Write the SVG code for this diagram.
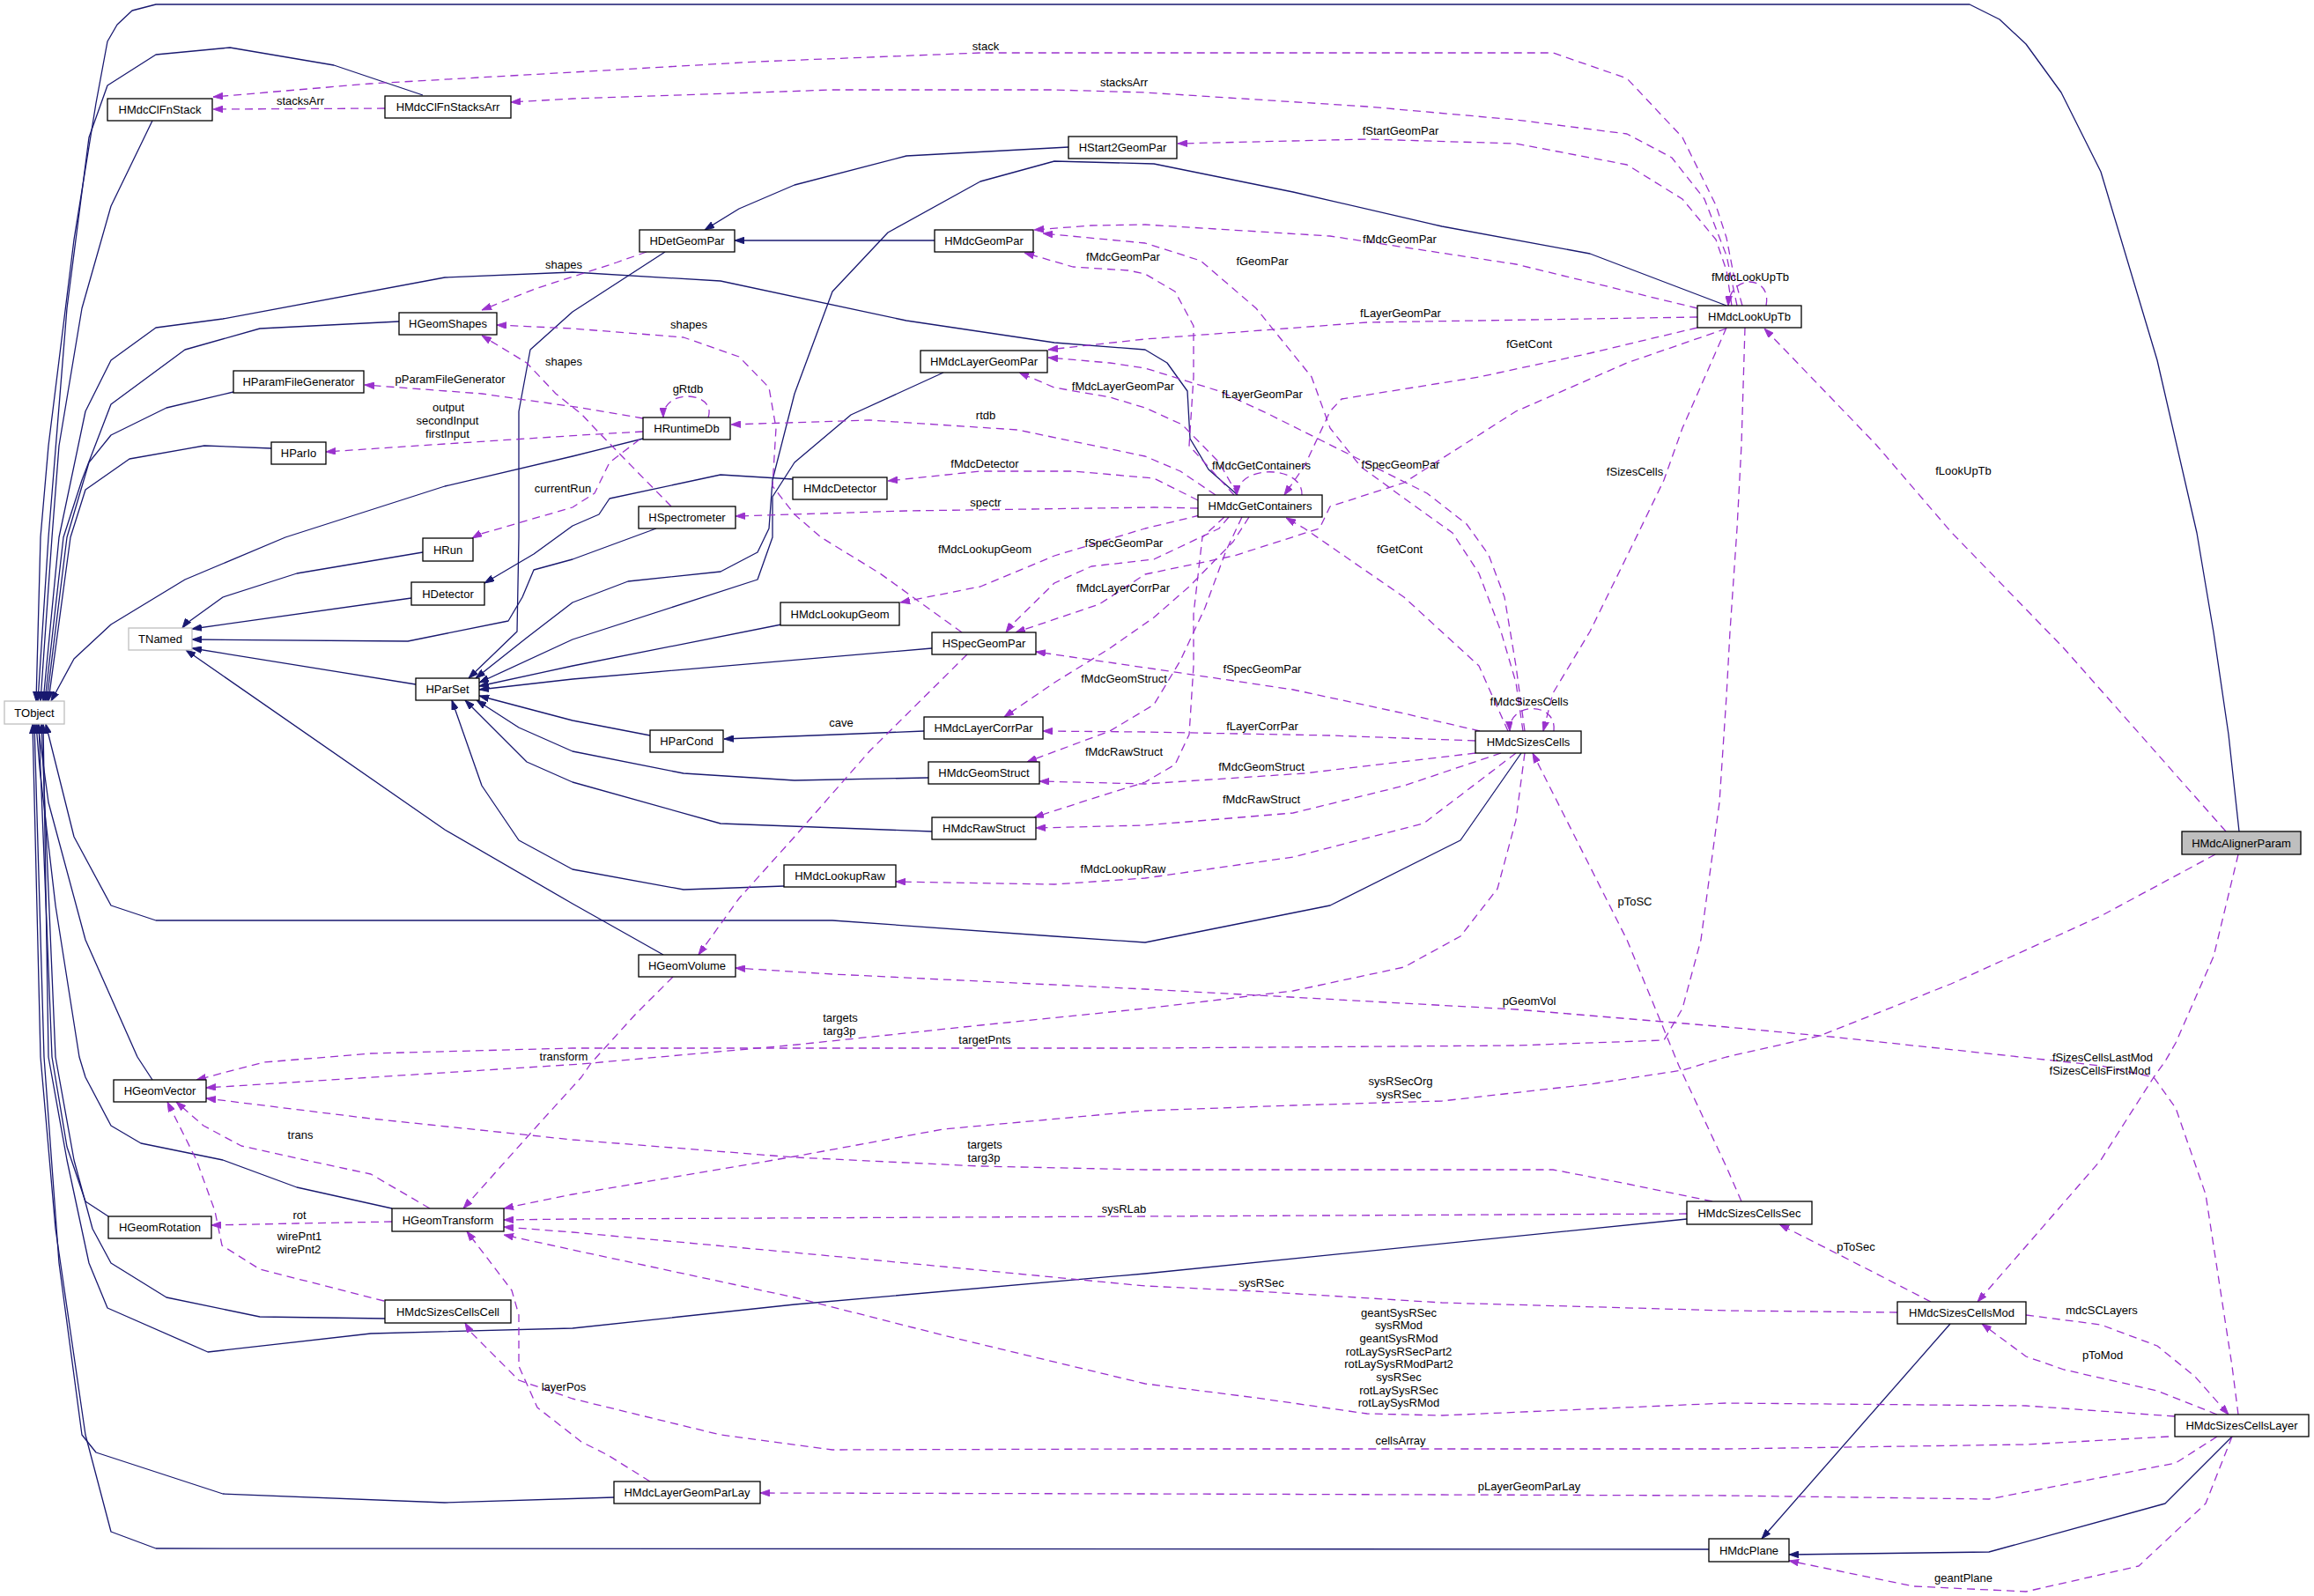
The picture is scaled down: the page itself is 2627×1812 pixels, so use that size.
<svg xmlns="http://www.w3.org/2000/svg" width="2627" height="1812" viewBox="0 0 2627 1812">
<style>
text{font-family:"Liberation Sans",Arial,Helvetica,sans-serif;font-size:13px;fill:#000}
.n text{text-anchor:middle}
.n rect{fill:#fff;stroke:#000;stroke-width:1.3}
.g rect{stroke:#bfbfbf}
.i{fill:none;stroke:#191970;stroke-width:1.3;stroke-linejoin:round;marker-end:url(#mi)}
.u{fill:none;stroke:#9a32cd;stroke-width:1.3;stroke-linejoin:round;stroke-dasharray:9,6;marker-end:url(#mu)}
.l text{text-anchor:middle}
</style>
<defs>
<marker id="mi" viewBox="0 0 10 7" refX="10" refY="3.5" markerWidth="11" markerHeight="8" orient="auto" markerUnits="userSpaceOnUse"><path d="M0,0 L10,3.5 L0,7 z" fill="#191970" stroke="#191970" stroke-width="0.8"/></marker>
<marker id="mu" viewBox="0 0 10 7" refX="10" refY="3.5" markerWidth="11" markerHeight="8" orient="auto" markerUnits="userSpaceOnUse"><path d="M0,0 L10,3.5 L0,7 z" fill="#9a32cd" stroke="#9a32cd" stroke-width="0.8"/></marker>
</defs>
<rect x="0" y="0" width="2627" height="1812" fill="#fff"/>
<g id="edges">
<path class="i" d="M2542,944 L2530,834 L2513,718 L2494,605 L2449,409 L2385,195 L2340,105 L2300,50 L2270,22 L2236,5 L177,5 L150,12 L133,28 L122,47 L109,117 L84,272 L55,506 L46,610 L41,796"/>
<path class="i" d="M480,108 L379,74 L261,54 L177,62 L122,97 L101,156 L76,350 L55,610 L43,796"/>
<path class="i" d="M173,137 L126,234 L93,350 L67,506 L59,610 L46,796"/>
<path class="i" d="M1405,562 L1372,533 L1351,498 L1348,444 L1325,412 L1300,397 L1197,389 L1029,364 L818,319 L650,309 L505,315 L253,362 L177,372 L126,409 L97,467 L67,610 L49,796"/>
<path class="i" d="M453,365 L295,373 L210,397 L126,459 L93,545 L72,610 L51,796"/>
<path class="i" d="M265,445 L189,463 L126,494 L101,525 L76,610 L53,796"/>
<path class="i" d="M308,509 L232,506 L147,521 L97,556 L80,610 L55,796"/>
<path class="i" d="M730,498 L650,518 L505,552 L324,610 L210,658 L126,709 L84,748 L58,796"/>
<path class="i" d="M755,286 L650,354 L602,397 L589,467 L589,610 L587,717 L532,770"/>
<path class="i" d="M1061,273 L834,273"/>
<path class="i" d="M1213,167 L1029,177 L902,210 L839,237 L800,261"/>
<path class="i" d="M1960,347 L1805,288 L1637,257 L1468,218 L1310,186 L1197,183 L1113,206 L1008,264 L945,331 L902,447 L877,545 L873,600 L860,627 L818,649 L713,660 L650,684 L598,724 L540,770"/>
<path class="i" d="M1071,423 L966,471 L902,525 L877,564 L877,610 L860,658 L650,726 L544,775"/>
<path class="i" d="M480,627 L337,651 L253,678 L210,709 L207,713"/>
<path class="i" d="M467,679 L218,714"/>
<path class="i" d="M745,600 L650,635 L606,647 L593,678 L577,705 L463,728 L218,726"/>
<path class="i" d="M472,777 L218,736"/>
<path class="i" d="M753,1084 L650,1026 L505,942 L211,738"/>
<path class="i" d="M900,544 L818,539 L692,566 L680,584 L650,597 L606,629 L550,662"/>
<path class="i" d="M887,709 L650,756 L544,779"/>
<path class="i" d="M1058,736 L650,771 L544,783"/>
<path class="i" d="M738,835 L650,818 L544,790"/>
<path class="i" d="M1054,883 L902,886 L776,878 L650,853 L589,826 L541,795"/>
<path class="i" d="M1058,944 L818,935 L650,888 L598,865 L528,795"/>
<path class="i" d="M890,1006 L776,1010 L650,987 L589,954 L547,892 L513,795"/>
<path class="i" d="M1049,830 L822,839"/>
<path class="i" d="M1727,855 L1658,954 L1510,1028 L1300,1070 L1197,1063 L945,1045 L177,1045 L126,1028 L84,950 L52,822"/>
<path class="i" d="M173,1226 L156,1200 L97,1067 L55,911 L43,822"/>
<path class="i" d="M445,1372 L337,1348 L253,1317 L160,1298 L126,1278 L97,1223 L90,1200 L63,1028 L45,872 L41,822"/>
<path class="i" d="M123,1381 L97,1364 L76,1302 L59,1200 L44,822"/>
<path class="i" d="M437,1497 L295,1495 L189,1473 L126,1434 L105,1395 L84,1317 L63,1200 L47,822"/>
<path class="i" d="M1915,1384 L1300,1446 L902,1481 L650,1508 L421,1514 L236,1535 L122,1485 L101,1434 L76,1317 L55,1200 L49,822"/>
<path class="i" d="M697,1700 L505,1706 L253,1696 L109,1649 L93,1629 L67,1434 L50,1200 L39,822"/>
<path class="i" d="M1940,1759 L177,1758 L126,1739 L97,1629 L63,1395 L46,1200 L37,822"/>
<path class="i" d="M2214,1503 L2000,1747"/>
<path class="i" d="M2534,1631 L2458,1707 L2258,1762 L2031,1765"/>

<path class="u" d="M1978,347 L1968,311 L1960,270 L1948,233 L1910,156 L1847,89 L1763,60 L1300,60 L1113,60 L860,70 L650,82 L420,95 L242,110"/>
<path class="u" d="M437,123 L242,124"/>
<path class="u" d="M1972,347 L1960,290 L1935,226 L1898,179 L1847,152 L1721,136 L1552,121 L1300,105 L1197,102 L945,102 L650,112 L580,116"/>
<path class="u" d="M1966,347 L1960,307 L1948,272 L1910,226 L1847,187 L1721,163 L1552,158 L1337,163"/>
<path class="u" d="M2005,347 C2012,312 1964,310 1962,347"/>
<path class="u" d="M1927,350 L1721,300 L1510,268 L1300,255 L1239,256 L1174,261"/>
<path class="u" d="M1401,562 L1350,506 L1355,428 L1355,370 L1334,331 L1300,311 L1281,307 L1218,303 L1163,287"/>
<path class="u" d="M1729,830 L1721,775 L1704,717 L1679,651 L1649,605 L1600,570 L1545,530 L1510,486 L1489,428 L1426,350 L1363,296 L1300,276 L1184,265"/>
<path class="u" d="M734,286 L700,298 L660,311 L610,327 L547,352"/>
<path class="u" d="M1092,718 L999,651 L932,610 L902,584 L877,552 L881,486 L873,440 L839,405 L776,383 L650,373 L564,369"/>
<path class="u" d="M762,575 L713,525 L675,486 L660,470 L631,447 L598,412 L547,381"/>
<path class="u" d="M730,475 L660,463 L547,447 L414,437"/>
<path class="u" d="M730,490 L660,494 L505,504 L370,513"/>
<path class="u" d="M804,474 C814,444 752,440 753,474"/>
<path class="u" d="M1380,562 L1340,535 L1300,518 L1155,488 L987,477 L830,482"/>
<path class="u" d="M1360,568 L1310,543 L1218,535 L1113,535 L1008,546"/>
<path class="u" d="M1360,577 L1310,576 L1029,580 L835,586"/>
<path class="u" d="M1362,585 L1300,600 L1197,631 L1113,666 L1022,684"/>
<path class="u" d="M1405,562 L1384,525 L1342,482 L1300,463 L1260,451 L1197,440 L1157,423"/>
<path class="u" d="M1478,562 C1480,528 1405,526 1404,562"/>
<path class="u" d="M1927,360 L1552,366 L1300,385 L1190,397"/>
<path class="u" d="M1731,830 L1721,756 L1708,678 L1690,630 L1665,595 L1620,560 L1560,530 L1500,500 L1440,470 L1384,444 L1300,418 L1260,412 L1190,406"/>
<path class="u" d="M1927,372 L1805,401 L1679,428 L1523,453 L1510,467 L1481,529 L1458,562"/>
<path class="u" d="M1960,373 L1847,412 L1721,467 L1594,548 L1510,575 L1498,600 L1401,631 L1300,652 L1248,686 L1153,718"/>
<path class="u" d="M1960,372 L1910,486 L1889,545 L1860,605 L1805,717 L1763,787 L1752,830"/>
<path class="u" d="M2527,944 L2343,736 L2215,604 L2130,505 L2003,373"/>
<path class="u" d="M1395,587 L1384,600 L1310,635 L1239,643 L1197,662 L1147,711 L1142,718"/>
<path class="u" d="M1418,587 L1400,615 L1350,666 L1310,701 L1260,736 L1197,775 L1140,814"/>
<path class="u" d="M1410,587 L1392,625 L1368,690 L1340,750 L1310,800 L1260,830 L1166,865"/>
<path class="u" d="M1390,587 L1365,610 L1355,697 L1355,756 L1350,834 L1334,868 L1300,888 L1239,907 L1174,928"/>
<path class="u" d="M1712,830 L1679,756 L1594,678 L1481,600 L1460,588"/>
<path class="u" d="M1764,830 C1768,796 1712,796 1714,830"/>
<path class="u" d="M1680,830 L1594,810 L1468,783 L1300,758 L1176,740"/>
<path class="u" d="M1675,841 L1510,835 L1300,831 L1184,830"/>
<path class="u" d="M1675,855 L1481,878 L1300,890 L1180,887"/>
<path class="u" d="M1704,855 L1594,892 L1468,923 L1300,937 L1176,940"/>
<path class="u" d="M1721,855 L1616,935 L1468,973 L1300,997 L1197,1004 L1017,1001"/>
<path class="u" d="M1977,1364 L1960,1325 L1906,1210 L1847,1067 L1740,855"/>
<path class="u" d="M2541,1606 L2534,1551 L2504,1356 L2470,1258 L2445,1223 L2385,1210 L2321,1203 L2088,1178 L1960,1166 L1721,1146 L1300,1123 L945,1106 L835,1099"/>
<path class="u" d="M2541,970 L2513,1086 L2470,1184 L2458,1205 L2445,1223 L2385,1317 L2300,1415 L2245,1478"/>
<path class="u" d="M2515,970 L2385,1040 L2215,1117 L2066,1176 L1960,1200 L1910,1215 L1805,1231 L1637,1250 L1468,1255 L1300,1261 L1071,1282 L902,1313 L650,1356 L600,1366 L572,1372"/>
<path class="u" d="M1731,855 L1721,931 L1700,1009 L1658,1063 L1594,1098 L1468,1125 L1300,1145 L1113,1164 L905,1186 L671,1207 L660,1208 L234,1235"/>
<path class="u" d="M1981,372 L1977,505 L1972,600 L1964,717 L1960,790 L1952,911 L1931,1067 L1910,1145 L1889,1181 L1721,1187 L1300,1190 L650,1190 L421,1196 L300,1206 L223,1226"/>
<path class="u" d="M1944,1364 L1847,1344 L1763,1328 L1300,1328 L1113,1324 L902,1314 L650,1294 L421,1270 L234,1247"/>
<path class="u" d="M1915,1378 L1300,1381 L650,1384 L572,1385"/>
<path class="u" d="M2154,1490 L1960,1488 L1637,1479 L1426,1466 L1300,1460 L987,1430 L650,1399 L572,1393"/>
<path class="u" d="M2469,1608 L2300,1596 L1960,1593 L1637,1607 L1552,1605 L1426,1587 L1300,1571 L1071,1516 L902,1473 L650,1419 L572,1402"/>
<path class="u" d="M2462,1631 L2300,1640 L1960,1645 L1300,1645 L945,1646 L818,1629 L650,1588 L589,1567 L534,1512 L528,1502"/>
<path class="u" d="M738,1682 L690,1652 L660,1637 L610,1598 L589,1551 L589,1493 L581,1465 L530,1398"/>
<path class="u" d="M2517,1631 L2470,1661 L2258,1702 L1960,1698 L1300,1696 L863,1695"/>
<path class="u" d="M2534,1631 L2504,1707 L2428,1778 L2300,1807 L2173,1801 L2031,1772"/>
<path class="u" d="M2300,1493 L2385,1504 L2449,1528 L2492,1563 L2530,1606"/>
<path class="u" d="M2517,1606 L2449,1579 L2343,1555 L2300,1540 L2250,1503"/>
<path class="u" d="M2192,1478 L2130,1446 L2020,1390"/>
<path class="u" d="M436,1477 L295,1441 L252,1414 L244,1375 L223,1317 L190,1251"/>
<path class="u" d="M488,1372 L421,1333 L337,1315 L274,1301 L231,1278 L200,1251"/>
<path class="u" d="M445,1387 L337,1389 L240,1391"/>
<path class="u" d="M764,1109 L721,1152 L671,1207 L660,1223 L610,1278 L526,1372"/>
<path class="u" d="M1098,743 L987,853 L902,950 L839,1020 L793,1084"/>
<path class="u" d="M726,499 L692,525 L675,560 L650,576 L543,607 L536,611"/>
</g>
<g id="edge-labels" class="l">
<text x="1119" y="57">stack</text>
<text x="1276" y="98">stacksArr</text>
<text x="341" y="119">stacksArr</text>
<text x="1590" y="153">fStartGeomPar</text>
<text x="1589" y="276">fMdcGeomPar</text>
<text x="1987" y="319">fMdcLookUpTb</text>
<text x="640" y="305">shapes</text>
<text x="1275" y="296">fMdcGeomPar</text>
<text x="1433" y="301">fGeomPar</text>
<text x="1590" y="360">fLayerGeomPar</text>
<text x="1736" y="395">fGetCont</text>
<text x="782" y="373">shapes</text>
<text x="640" y="415">shapes</text>
<text x="511" y="435">pParamFileGenerator</text>
<text x="509" y="467">output</text>
<text x="508" y="482">secondInput</text>
<text x="508" y="497">firstInput</text>
<text x="781" y="446">gRtdb</text>
<text x="1119" y="476">rtdb</text>
<text x="1275" y="443">fMdcLayerGeomPar</text>
<text x="1433" y="452">fLayerGeomPar</text>
<text x="1432" y="533">fMdcGetContainers</text>
<text x="1590" y="532">fSpecGeomPar</text>
<text x="1856" y="540">fSizesCells</text>
<text x="2229" y="539">fLookUpTb</text>
<text x="639" y="559">currentRun</text>
<text x="1118" y="531">fMdcDetector</text>
<text x="1119" y="575">spectr</text>
<text x="1118" y="628">fMdcLookupGeom</text>
<text x="1276" y="621">fSpecGeomPar</text>
<text x="1275" y="672">fMdcLayerCorrPar</text>
<text x="1589" y="628">fGetCont</text>
<text x="1433" y="764">fSpecGeomPar</text>
<text x="1276" y="775">fMdcGeomStruct</text>
<text x="1736" y="801">fMdcSizesCells</text>
<text x="955" y="825">cave</text>
<text x="1433" y="829">fLayerCorrPar</text>
<text x="1276" y="858">fMdcRawStruct</text>
<text x="1432" y="875">fMdcGeomStruct</text>
<text x="1432" y="912">fMdcRawStruct</text>
<text x="1275" y="991">fMdcLookupRaw</text>
<text x="1856" y="1028">pToSC</text>
<text x="1736" y="1141">pGeomVol</text>
<text x="2387" y="1205">fSizesCellsLastMod</text>
<text x="2384" y="1220">fSizesCellsFirstMod</text>
<text x="954" y="1160">targets</text>
<text x="953" y="1175">targ3p</text>
<text x="1118" y="1185">targetPnts</text>
<text x="640" y="1204">transform</text>
<text x="1590" y="1232">sysRSecOrg</text>
<text x="1588" y="1247">sysRSec</text>
<text x="1118" y="1304">targets</text>
<text x="1117" y="1319">targ3p</text>
<text x="341" y="1293">trans</text>
<text x="1276" y="1377">sysRLab</text>
<text x="2107" y="1420">pToSec</text>
<text x="340" y="1384">rot</text>
<text x="340" y="1408">wirePnt1</text>
<text x="339" y="1423">wirePnt2</text>
<text x="1432" y="1461">sysRSec</text>
<text x="2386" y="1492">mdcSCLayers</text>
<text x="1588" y="1495">geantSysRSec</text>
<text x="1588" y="1509">sysRMod</text>
<text x="1588" y="1524">geantSysRMod</text>
<text x="1588" y="1539">rotLaySysRSecPart2</text>
<text x="1588" y="1553">rotLaySysRModPart2</text>
<text x="1588" y="1568">sysRSec</text>
<text x="1588" y="1583">rotLaySysRSec</text>
<text x="1588" y="1597">rotLaySysRMod</text>
<text x="2387" y="1543">pToMod</text>
<text x="640" y="1579">layerPos</text>
<text x="1590" y="1640">cellsArray</text>
<text x="1736" y="1692">pLayerGeomParLay</text>
<text x="2229" y="1796">geantPlane</text>
</g>
<g id="node-HMdcAlignerParam" class="n"><rect x="2477" y="944" width="135" height="26" style="fill:#bfbfbf"/><text x="2544.5" y="961.5">HMdcAlignerParam</text></g>
<g id="node-TObject" class="n g"><rect x="5" y="796" width="68" height="26"/><text x="39" y="813.5">TObject</text></g>
<g id="node-TNamed" class="n g"><rect x="146" y="713" width="72" height="25"/><text x="182" y="730">TNamed</text></g>
<g id="node-HMdcClFnStack" class="n"><rect x="122" y="112" width="119" height="25"/><text x="181.5" y="129">HMdcClFnStack</text></g>
<g id="node-HMdcClFnStacksArr" class="n"><rect x="437" y="109" width="143" height="25"/><text x="508.5" y="126">HMdcClFnStacksArr</text></g>
<g id="node-HGeomShapes" class="n"><rect x="453" y="355" width="111" height="25"/><text x="508.5" y="372">HGeomShapes</text></g>
<g id="node-HParamFileGenerator" class="n"><rect x="265" y="421" width="148" height="25"/><text x="339" y="438">HParamFileGenerator</text></g>
<g id="node-HParIo" class="n"><rect x="308" y="502" width="62" height="25"/><text x="339" y="519">HParIo</text></g>
<g id="node-HDetGeomPar" class="n"><rect x="726" y="261" width="108" height="25"/><text x="780" y="278">HDetGeomPar</text></g>
<g id="node-HMdcGeomPar" class="n"><rect x="1061" y="261" width="112" height="25"/><text x="1117" y="278">HMdcGeomPar</text></g>
<g id="node-HStart2GeomPar" class="n"><rect x="1213" y="155" width="123" height="25"/><text x="1274.5" y="172">HStart2GeomPar</text></g>
<g id="node-HMdcLayerGeomPar" class="n"><rect x="1045" y="398" width="144" height="25"/><text x="1117" y="415">HMdcLayerGeomPar</text></g>
<g id="node-HRuntimeDb" class="n"><rect x="730" y="474" width="99" height="25"/><text x="779.5" y="491">HRuntimeDb</text></g>
<g id="node-HMdcDetector" class="n"><rect x="900" y="542" width="107" height="25"/><text x="953.5" y="559">HMdcDetector</text></g>
<g id="node-HSpectrometer" class="n"><rect x="725" y="575" width="110" height="25"/><text x="780" y="592">HSpectrometer</text></g>
<g id="node-HMdcGetContainers" class="n"><rect x="1360" y="562" width="141" height="25"/><text x="1430.5" y="579">HMdcGetContainers</text></g>
<g id="node-HMdcLookUpTb" class="n"><rect x="1927" y="347" width="118" height="25"/><text x="1986" y="364">HMdcLookUpTb</text></g>
<g id="node-HRun" class="n"><rect x="480" y="611" width="57" height="26"/><text x="508.5" y="628.5">HRun</text></g>
<g id="node-HDetector" class="n"><rect x="467" y="661" width="83" height="26"/><text x="508.5" y="678.5">HDetector</text></g>
<g id="node-HParSet" class="n"><rect x="472" y="770" width="72" height="25"/><text x="508" y="787">HParSet</text></g>
<g id="node-HMdcLookupGeom" class="n"><rect x="886" y="684" width="135" height="26"/><text x="953.5" y="701.5">HMdcLookupGeom</text></g>
<g id="node-HSpecGeomPar" class="n"><rect x="1058" y="718" width="118" height="25"/><text x="1117" y="735">HSpecGeomPar</text></g>
<g id="node-HParCond" class="n"><rect x="738" y="829" width="83" height="25"/><text x="779.5" y="846">HParCond</text></g>
<g id="node-HMdcLayerCorrPar" class="n"><rect x="1049" y="814" width="135" height="25"/><text x="1116.5" y="831">HMdcLayerCorrPar</text></g>
<g id="node-HMdcGeomStruct" class="n"><rect x="1054" y="865" width="126" height="25"/><text x="1117" y="882">HMdcGeomStruct</text></g>
<g id="node-HMdcRawStruct" class="n"><rect x="1058" y="928" width="118" height="25"/><text x="1117" y="945">HMdcRawStruct</text></g>
<g id="node-HMdcLookupRaw" class="n"><rect x="890" y="982" width="127" height="25"/><text x="953.5" y="999">HMdcLookupRaw</text></g>
<g id="node-HGeomVolume" class="n"><rect x="725" y="1084" width="110" height="25"/><text x="780" y="1101">HGeomVolume</text></g>
<g id="node-HMdcSizesCells" class="n"><rect x="1675" y="830" width="120" height="25"/><text x="1735" y="847">HMdcSizesCells</text></g>
<g id="node-HGeomVector" class="n"><rect x="129" y="1226" width="105" height="25"/><text x="181.5" y="1243">HGeomVector</text></g>
<g id="node-HGeomRotation" class="n"><rect x="123" y="1381" width="117" height="25"/><text x="181.5" y="1398">HGeomRotation</text></g>
<g id="node-HGeomTransform" class="n"><rect x="445" y="1372" width="127" height="26"/><text x="508.5" y="1389.5">HGeomTransform</text></g>
<g id="node-HMdcSizesCellsCell" class="n"><rect x="437" y="1476" width="143" height="26"/><text x="508.5" y="1493.5">HMdcSizesCellsCell</text></g>
<g id="node-HMdcLayerGeomParLay" class="n"><rect x="697" y="1682" width="166" height="25"/><text x="780" y="1699">HMdcLayerGeomParLay</text></g>
<g id="node-HMdcSizesCellsSec" class="n"><rect x="1915" y="1364" width="142" height="26"/><text x="1986" y="1381.5">HMdcSizesCellsSec</text></g>
<g id="node-HMdcSizesCellsMod" class="n"><rect x="2154" y="1478" width="146" height="25"/><text x="2227" y="1495">HMdcSizesCellsMod</text></g>
<g id="node-HMdcSizesCellsLayer" class="n"><rect x="2469" y="1606" width="152" height="25"/><text x="2545" y="1623">HMdcSizesCellsLayer</text></g>
<g id="node-HMdcPlane" class="n"><rect x="1940" y="1747" width="91" height="26"/><text x="1985.5" y="1764.5">HMdcPlane</text></g>
</svg>
